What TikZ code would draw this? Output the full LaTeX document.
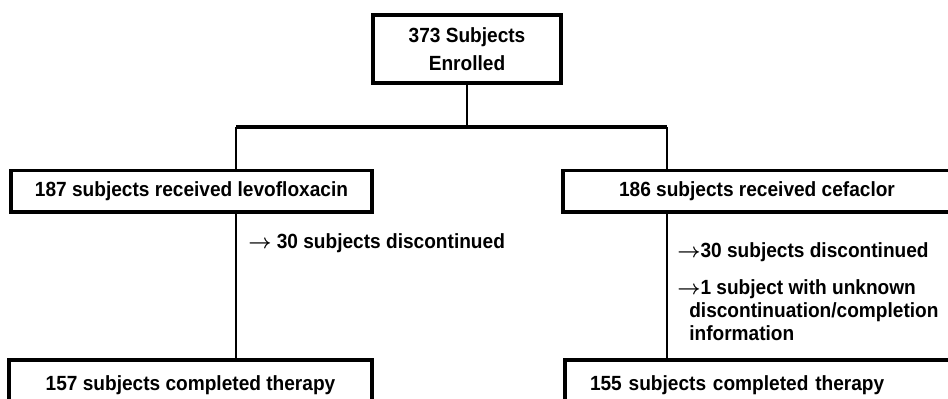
\documentclass[tikz,border=0pt]{standalone}
\usepackage{fontspec}
\newfontfamily\scanfont{Liberation Sans}[FakeStretch=0.93]
\newcommand{\dropto}{{\boldmath$\rightarrow$}}
\begin{document}
\begin{tikzpicture}[every node/.style={font=\scanfont\bfseries\fontsize{14.6}{16.4}\selectfont},
  box/.style={draw,line width=2.5pt,inner sep=0pt},
  link/.style={line width=1.9pt}]
\useasboundingbox (0,0) rectangle (23.7,9.95);
\node[box,minimum width=4.7cm,minimum height=1.7cm,align=center,font=\scanfont\bfseries\fontsize{14.6}{20}\selectfont] (enrol) at (11.675,8.725) {373 Subjects\\Enrolled};
\node[box,minimum width=9.025cm,minimum height=1.04cm] (levo) at (4.7875,5.17) {187 subjects received levofloxacin};
\node[box,minimum width=9.7cm,minimum height=1.04cm] (cefa) at (18.925,5.17) {186 subjects received cefaclor};
\node[box,minimum width=9.075cm,minimum height=1.25cm] (levodone) at (4.7625,0.325) {157 subjects completed therapy};
\node[box,minimum width=9.875cm,minimum height=1.25cm,text width=8.625cm,inner xsep=0.625cm,align=left] (cefadone) at (19.0625,0.325) {155 subjects completed therapy};
\coordinate (lturn) at (5.9,6.775);
\coordinate (rturn) at (16.675,6.775);
% tree lines
\draw[link] (enrol.south) -- (enrol.south |- lturn);
\draw[link,line width=2.6pt] (lturn) -- (rturn);
\draw[link] (lturn) -- (levo.north -| lturn);
\draw[link] (rturn) -- (cefa.north -| rturn);
\draw[link] (levo.south -| lturn) -- (levodone.north -| lturn);
\draw[link] (cefa.south -| rturn) -- (cefadone.north -| rturn);
% dropouts
\node[anchor=west,inner sep=0pt] (levoout) at (6.2,3.875) {\dropto{} 30 subjects discontinued};
\node[anchor=west,inner sep=0pt] (cefaout) at (16.925,3.65) {\dropto30 subjects discontinued};
\node[anchor=north west,inner sep=0pt,align=left] (cefaunk) at (16.925,2.965) {\dropto1 subject with unknown\\\hspace*{0.3cm}discontinuation/completion\\\hspace*{0.3cm}information};
\end{tikzpicture}
\end{document}
